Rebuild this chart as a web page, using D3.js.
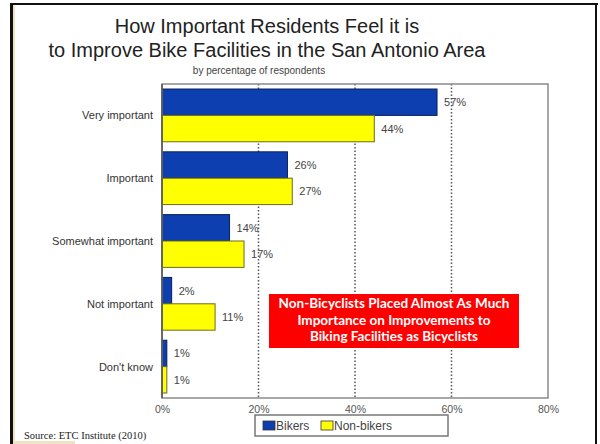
<!DOCTYPE html>
<html>
<head>
<meta charset="utf-8">
<script src="https://cdn.jsdelivr.net/npm/d3@7"></script>
<style>
  html, body { margin: 0; padding: 0; background: #fff; }
  svg { display: block; font-family: "Liberation Sans", Arial, sans-serif; }
</style>
</head>
<body>
<svg id="chart" width="600" height="444"></svg>
<script>
// data
const categories = ["Very important", "Important", "Somewhat important", "Not important", "Don't know"];
const bikers = [57, 26, 14, 2, 1];
const nonBikers = [44, 27, 17, 11, 1];
const seriesNames = ["Bikers", "Non-bikers"];
const xTicks = [0, 20, 40, 60, 80];
const calloutLines = ["Non-Bicyclists Placed Almost As Much", "Importance on Improvements to", "Biking Facilities as Bicyclists"];

const svg = d3.select("#chart");
const colors = { Bikers: "#0d3fb0", "Non-bikers": "#ffff00" };
const strokes = { Bikers: "#0a1f5c", "Non-bikers": "#6b6b20" };

// slide frame
svg.append("rect").attr("x", 0).attr("y", 0).attr("width", 600).attr("height", 444).attr("fill", "#fff");
svg.append("rect").attr("x", 13).attr("y", 5).attr("width", 2).attr("height", 439).attr("fill", "#efe3c4");
svg.append("rect").attr("x", 13).attr("y", 441).attr("width", 62).attr("height", 3).attr("fill", "#efe3c4");
svg.append("rect").attr("x", 10).attr("y", 3).attr("width", 3).attr("height", 441).attr("fill", "#111");
svg.append("rect").attr("x", 10).attr("y", 3).attr("width", 588).attr("height", 2).attr("fill", "#111");
svg.append("rect").attr("x", 595).attr("y", 3).attr("width", 2).attr("height", 441).attr("fill", "#111");

// titles
svg.append("text").attr("x", 267).attr("y", 33).attr("text-anchor", "middle")
    .attr("font-size", 20).attr("fill", "#222").text("How Important Residents Feel it is");
svg.append("text").attr("x", 267).attr("y", 57).attr("text-anchor", "middle")
    .attr("font-size", 20).attr("fill", "#222").text("to Improve Bike Facilities in the San Antonio Area");
svg.append("text").attr("x", 259).attr("y", 74).attr("text-anchor", "middle")
    .attr("font-size", 10).attr("fill", "#444").text("by percentage of respondents");

const plot = { left: 162, right: 548, top: 84, bottom: 398 };

const x = d3.scaleLinear().domain([0, 80]).range([plot.left, plot.right]);
const y = d3.scaleBand().domain(categories).range([plot.top, plot.bottom]).paddingInner(0.16).paddingOuter(0.08);
const ySub = d3.scaleBand().domain(seriesNames).range([0, y.bandwidth()]);

// dotted gridlines
svg.append("g").selectAll("line")
    .data(xTicks.filter(d => d > 0 && d < 80))
    .join("line")
    .attr("x1", d => x(d)).attr("x2", d => x(d))
    .attr("y1", plot.top).attr("y2", plot.bottom)
    .attr("stroke", "#555").attr("stroke-width", 1.5).attr("stroke-dasharray", "1.5,2");

// bars
const rows = categories.map((c, i) => ({ cat: c, values: [
    { name: "Bikers", value: bikers[i] },
    { name: "Non-bikers", value: nonBikers[i] }
] }));

const group = svg.append("g").selectAll("g")
    .data(rows)
    .join("g")
    .attr("transform", d => "translate(0," + y(d.cat) + ")");

group.selectAll("rect")
    .data(d => d.values)
    .join("rect")
    .attr("x", x(0))
    .attr("y", d => ySub(d.name))
    .attr("width", d => x(d.value) - x(0))
    .attr("height", ySub.bandwidth())
    .attr("fill", d => colors[d.name])
    .attr("stroke", d => strokes[d.name])
    .attr("stroke-width", 1);

group.selectAll("text")
    .data(d => d.values)
    .join("text")
    .attr("x", d => x(d.value) + 7)
    .attr("y", d => ySub(d.name) + ySub.bandwidth() / 2 + 4)
    .attr("font-size", 11).attr("fill", "#444")
    .text(d => d.value + "%");

// plot frame
svg.append("rect")
    .attr("x", plot.left).attr("y", plot.top)
    .attr("width", plot.right - plot.left).attr("height", plot.bottom - plot.top)
    .attr("fill", "none").attr("stroke", "#8a8a8a").attr("stroke-width", 1.5);
svg.append("line").attr("x1", plot.left).attr("x2", plot.left)
    .attr("y1", plot.top).attr("y2", plot.bottom).attr("stroke", "#555").attr("stroke-width", 1.5);

// category axis
svg.append("g").selectAll("text")
    .data(categories)
    .join("text")
    .attr("x", 153)
    .attr("y", d => y(d) + y.bandwidth() / 2 + 4)
    .attr("text-anchor", "end")
    .attr("font-size", 11).attr("fill", "#333")
    .text(d => d);

// value axis
const xAxis = d3.axisBottom(x).tickValues(xTicks).tickFormat(d => d + "%").tickSize(0).tickPadding(8);
svg.append("g")
    .attr("transform", "translate(0," + plot.bottom + ")")
    .call(xAxis)
    .call(g => g.select(".domain").remove())
    .call(g => g.selectAll("text")
        .attr("font-family", "Liberation Sans, Arial, sans-serif")
        .attr("font-size", 10.5).attr("fill", "#555"));

// legend
const legend = svg.append("g").attr("transform", "translate(255,415)");
legend.append("rect").attr("width", 193).attr("height", 21)
    .attr("fill", "#fff").attr("stroke", "#777").attr("stroke-width", 1.5);
const legendX = [8, 66];
seriesNames.forEach((name, i) => {
    legend.append("rect").attr("x", legendX[i]).attr("y", 6).attr("width", 12).attr("height", 9)
        .attr("fill", colors[name]).attr("stroke", "#333").attr("stroke-width", 0.8);
    legend.append("text").attr("x", legendX[i] + 13).attr("y", 15)
        .attr("font-size", 12).attr("fill", "#444").text(name);
});

// callout
svg.append("rect").attr("x", 269).attr("y", 294).attr("width", 250).attr("height", 54).attr("fill", "#ff0000");
svg.append("g").selectAll("text")
    .data(calloutLines)
    .join("text")
    .attr("x", 394)
    .attr("y", (d, i) => 308 + i * 16.5)
    .attr("text-anchor", "middle")
    .attr("font-family", "Lato, 'Open Sans', sans-serif")
    .attr("font-weight", "bold").attr("font-size", 13.5).attr("fill", "#fff")
    .text(d => d);

// source
svg.append("text").attr("x", 24).attr("y", 439)
    .attr("font-family", "Liberation Serif, 'Times New Roman', serif")
    .attr("font-size", 10.5).attr("fill", "#222")
    .text("Source:  ETC Institute (2010)");
</script>
</body>
</html>
